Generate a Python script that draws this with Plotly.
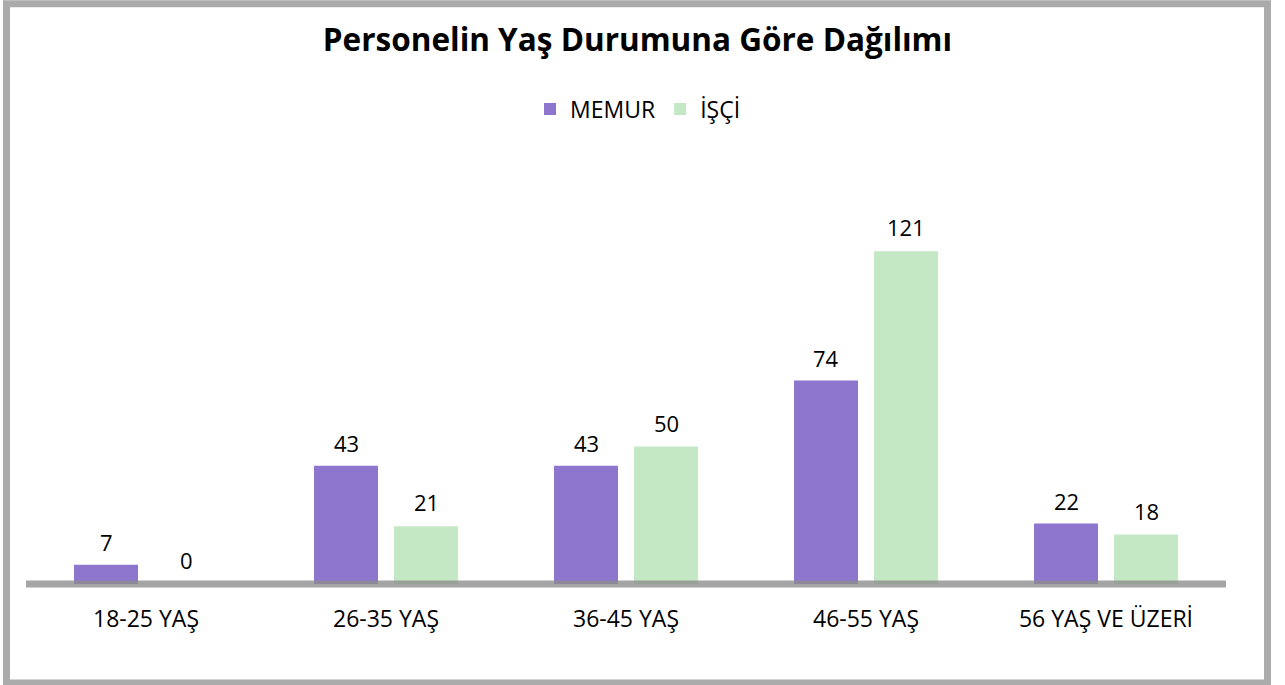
import plotly.graph_objects as go

categories = ["18-25 YAŞ", "26-35 YAŞ", "36-45 YAŞ", "46-55 YAŞ", "56 YAŞ VE ÜZERİ"]
memur = [7, 43, 43, 74, 22]
isci = [0, 21, 50, 121, 18]
series_names = ["MEMUR", "İŞÇİ"]
title_text = "Personelin Yaş Durumuna Göre Dağılımı"

PURPLE = "#8E75CE"
GREEN = "#C4E8C4"
GREY = "#ABABAB"
FONT = "Open Sans"

W, H = 1285, 685
ML, MR, MT, MB = 26, 59, 140, 101
plot_w = W - ML - MR
plot_h = H - MT - MB
ymax = 160.6

fig = go.Figure()
fig.add_trace(go.Bar(x=categories, y=memur, name=series_names[0],
                     marker=dict(color=PURPLE, line=dict(width=0))))
fig.add_trace(go.Bar(x=categories, y=isci, name=series_names[1],
                     marker=dict(color=GREEN, line=dict(width=0))))

# data labels
annotations = []
for cat, v in zip(categories, memur):
    annotations.append(dict(x=cat, y=v, xref="x", yref="y", text=str(v), showarrow=False,
                            xshift=-40, yshift=23, font=dict(family=FONT, size=22, color="#000000")))
for cat, v in zip(categories, isci):
    annotations.append(dict(x=cat, y=v, xref="x", yref="y", text=str(v), showarrow=False,
                            xshift=40, yshift=24, font=dict(family=FONT, size=22, color="#000000")))

def px_x(p):
    return (p - ML) / plot_w

def px_y(p):
    return (H - MB - p) / plot_h

shapes = [
    # baseline (paper-referenced so it is not clipped at the plot edge)
    dict(type="line", xref="paper", yref="paper", x0=0, x1=1, y0=0, y1=0,
         line=dict(color="rgba(140,140,140,0.78)", width=7), layer="above"),
    # outer frame
    dict(type="rect", xref="paper", yref="paper",
         x0=px_x(6.5), x1=px_x(1267.5), y0=px_y(683.5), y1=px_y(0.5),
         line=dict(color=GREY, width=7), fillcolor="rgba(0,0,0,0)", layer="above"),
]

fig.update_layout(
    width=W, height=H,
    paper_bgcolor="white", plot_bgcolor="white",
    margin=dict(l=ML, r=MR, t=MT, b=MB, pad=0),
    barmode="group", bargap=1/3, bargroupgap=0.2,
    title=dict(text="<b>" + title_text + "</b>", x=637.5 / W, xanchor="center",
               y=1 - 40 / H, yanchor="middle", yref="container",
               font=dict(family=FONT, size=31.5, color="#000000")),
    legend=dict(orientation="h", xref="container", yref="container",
                x=638 / W, xanchor="center", y=1 - 109 / H, yanchor="middle",
                font=dict(family=FONT, size=23, color="#000000"),
                itemclick=False, traceorder="normal"),
    xaxis=dict(showgrid=False, zeroline=False, showline=False, ticks="",
               tickfont=dict(family=FONT, size=23, color="#000000"),
               ticklabelstandoff=19, fixedrange=True),
    yaxis=dict(range=[0, ymax], showgrid=False, zeroline=False, showline=False,
               showticklabels=False, ticks="", fixedrange=True),
    annotations=annotations,
    shapes=shapes,
    showlegend=True,
)

fig.write_html("out.html", config={"displayModeBar": False},
               post_script="document.body.style.margin='0';document.body.style.overflow='hidden';")
